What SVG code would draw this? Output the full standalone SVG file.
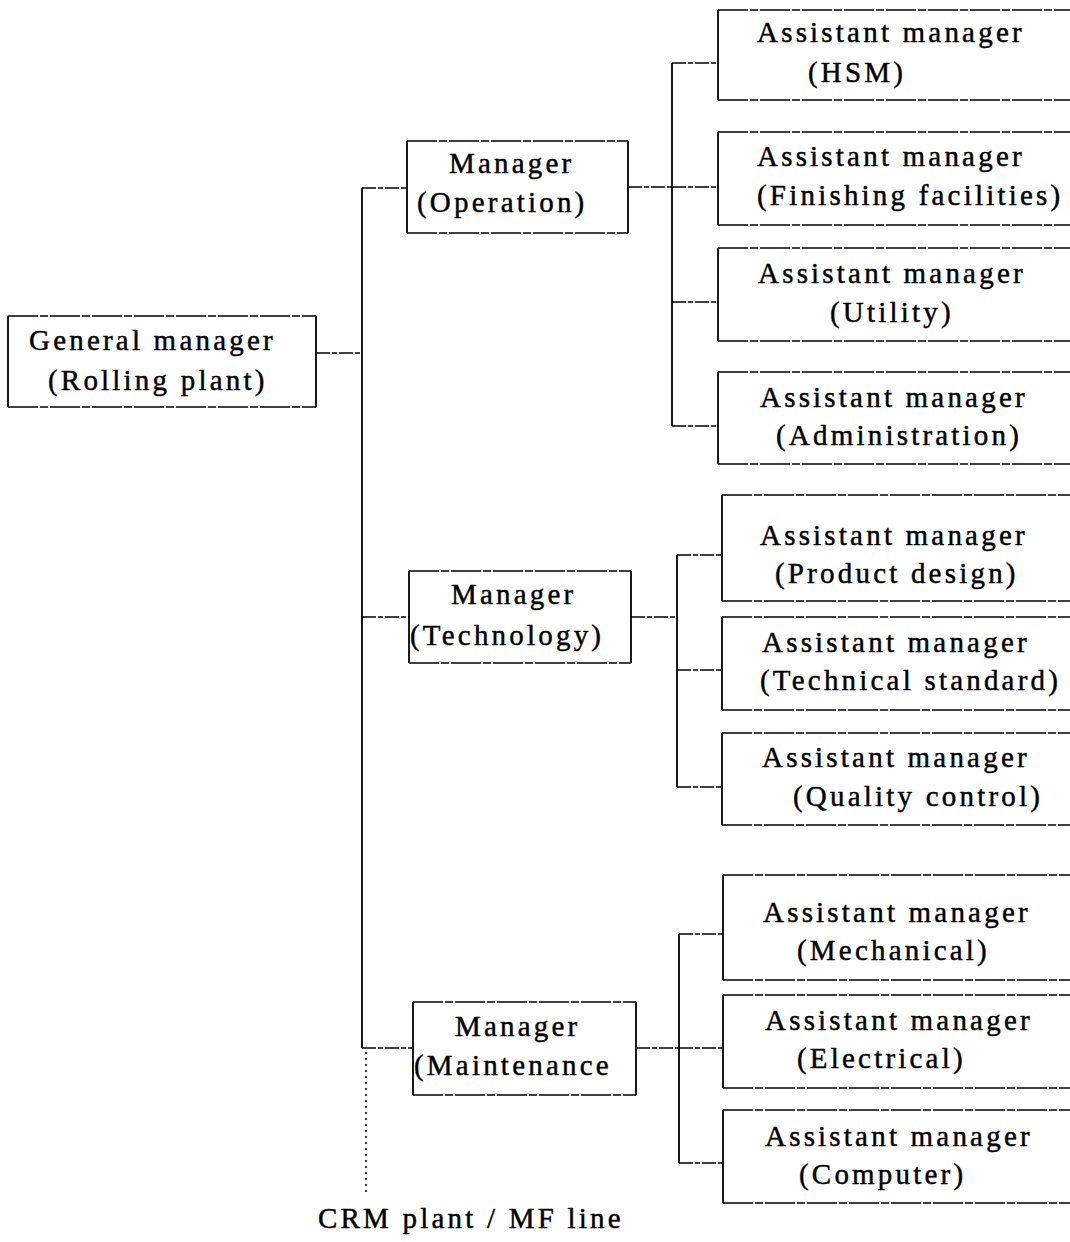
<svg xmlns="http://www.w3.org/2000/svg" width="1070" height="1242" viewBox="0 0 1070 1242">
<style>
.bg{fill:#fff}
.side{stroke:#000;stroke-width:1.8;fill:none}
.edge{stroke:#000;stroke-width:1.3;fill:none;stroke-dasharray:30 2 8 2}
.v{stroke:#000;stroke-width:1.8;fill:none}
.h{stroke:#000;stroke-width:1.3;fill:none;stroke-dasharray:14 2 5 2}
.dot{stroke:#000;stroke-width:1.5;fill:none;stroke-dasharray:2 4}
text{font-family:"Liberation Serif","Times New Roman",serif;font-size:29px;letter-spacing:3.2px;fill:#000;stroke:#000;stroke-width:0.45}
</style>
<rect class="bg" width="1070" height="1242"/>
<g id="connectors">
<line class="h" x1="316" y1="353" x2="362" y2="353"/>
<line class="v" x1="362" y1="188" x2="362" y2="1048"/>
<line class="h" x1="362" y1="188" x2="407" y2="188"/>
<line class="h" x1="362" y1="617" x2="409" y2="617"/>
<line class="h" x1="362" y1="1048" x2="413" y2="1048"/>
<line class="dot" x1="366" y1="1052" x2="366" y2="1196"/>
<line class="h" x1="628" y1="187" x2="672" y2="187"/>
<line class="v" x1="672" y1="63" x2="672" y2="426"/>
<line class="h" x1="672" y1="63" x2="718" y2="63"/>
<line class="h" x1="672" y1="187" x2="718" y2="187"/>
<line class="h" x1="672" y1="302" x2="718" y2="302"/>
<line class="h" x1="672" y1="426" x2="718" y2="426"/>
<line class="h" x1="631" y1="617" x2="677" y2="617"/>
<line class="v" x1="677" y1="555" x2="677" y2="787"/>
<line class="h" x1="677" y1="555" x2="722" y2="555"/>
<line class="h" x1="677" y1="670" x2="722" y2="670"/>
<line class="h" x1="677" y1="787" x2="722" y2="787"/>
<line class="h" x1="636" y1="1048" x2="679" y2="1048"/>
<line class="v" x1="679" y1="934" x2="679" y2="1163"/>
<line class="h" x1="679" y1="934" x2="723" y2="934"/>
<line class="h" x1="679" y1="1048" x2="723" y2="1048"/>
<line class="h" x1="679" y1="1163" x2="723" y2="1163"/>
</g>
<g id="general-manager">
<line class="edge" x1="8" y1="316" x2="316" y2="316"/><line class="edge" x1="8" y1="407" x2="316" y2="407"/>
<line class="side" x1="8" y1="316" x2="8" y2="407"/><line class="side" x1="316" y1="316" x2="316" y2="407"/>
<text x="29" y="350">General manager</text><text x="48" y="390">(Rolling plant)</text>
</g>
<g id="manager-operation">
<line class="edge" x1="407" y1="141" x2="628" y2="141"/><line class="edge" x1="407" y1="233" x2="628" y2="233"/>
<line class="side" x1="407" y1="141" x2="407" y2="233"/><line class="side" x1="628" y1="141" x2="628" y2="233"/>
<text x="449" y="173">Manager</text><text x="417" y="212">(Operation)</text>
</g>
<g id="manager-technology">
<line class="edge" x1="409" y1="571" x2="631" y2="571"/><line class="edge" x1="409" y1="663" x2="631" y2="663"/>
<line class="side" x1="409" y1="571" x2="409" y2="663"/><line class="side" x1="631" y1="571" x2="631" y2="663"/>
<text x="451" y="604">Manager</text><text x="410" y="645">(Technology)</text>
</g>
<g id="manager-maintenance">
<line class="edge" x1="413" y1="1002" x2="636" y2="1002"/><line class="edge" x1="413" y1="1095" x2="636" y2="1095"/>
<line class="side" x1="413" y1="1002" x2="413" y2="1095"/><line class="side" x1="636" y1="1002" x2="636" y2="1095"/>
<text x="455" y="1036">Manager</text><text x="414" y="1075">(Maintenance</text>
</g>
<g id="am-hsm">
<line class="edge" x1="718" y1="10" x2="1070" y2="10"/><line class="edge" x1="718" y1="100" x2="1070" y2="100"/>
<line class="side" x1="718" y1="10" x2="718" y2="100"/>
<text x="757" y="42">Assistant manager</text><text x="808" y="82">(HSM)</text>
</g>
<g id="am-finishing">
<line class="edge" x1="718" y1="132" x2="1070" y2="132"/><line class="edge" x1="718" y1="225" x2="1070" y2="225"/>
<line class="side" x1="718" y1="132" x2="718" y2="225"/>
<text x="757" y="166">Assistant manager</text><text x="757" y="205">(Finishing facilities)</text>
</g>
<g id="am-utility">
<line class="edge" x1="718" y1="248" x2="1070" y2="248"/><line class="edge" x1="718" y1="341" x2="1070" y2="341"/>
<line class="side" x1="718" y1="248" x2="718" y2="341"/>
<text x="758" y="283">Assistant manager</text><text x="830" y="322">(Utility)</text>
</g>
<g id="am-administration">
<line class="edge" x1="718" y1="372" x2="1070" y2="372"/><line class="edge" x1="718" y1="464" x2="1070" y2="464"/>
<line class="side" x1="718" y1="372" x2="718" y2="464"/>
<text x="760" y="407">Assistant manager</text><text x="776" y="445">(Administration)</text>
</g>
<g id="am-product-design">
<line class="edge" x1="722" y1="495" x2="1070" y2="495"/><line class="edge" x1="722" y1="601" x2="1070" y2="601"/>
<line class="side" x1="722" y1="495" x2="722" y2="601"/>
<text x="760" y="545">Assistant manager</text><text x="775" y="583">(Product design)</text>
</g>
<g id="am-technical-standard">
<line class="edge" x1="722" y1="617" x2="1070" y2="617"/><line class="edge" x1="722" y1="710" x2="1070" y2="710"/>
<line class="side" x1="722" y1="617" x2="722" y2="710"/>
<text x="762" y="652">Assistant manager</text><text x="760" y="690">(Technical standard)</text>
</g>
<g id="am-quality-control">
<line class="edge" x1="722" y1="733" x2="1070" y2="733"/><line class="edge" x1="722" y1="825" x2="1070" y2="825"/>
<line class="side" x1="722" y1="733" x2="722" y2="825"/>
<text x="762" y="767">Assistant manager</text><text x="793" y="806">(Quality control)</text>
</g>
<g id="am-mechanical">
<line class="edge" x1="723" y1="875" x2="1070" y2="875"/><line class="edge" x1="723" y1="980" x2="1070" y2="980"/>
<line class="side" x1="723" y1="875" x2="723" y2="980"/>
<text x="763" y="922">Assistant manager</text><text x="797" y="960">(Mechanical)</text>
</g>
<g id="am-electrical">
<line class="edge" x1="723" y1="995" x2="1070" y2="995"/><line class="edge" x1="723" y1="1088" x2="1070" y2="1088"/>
<line class="side" x1="723" y1="995" x2="723" y2="1088"/>
<text x="765" y="1030">Assistant manager</text><text x="797" y="1068">(Electrical)</text>
</g>
<g id="am-computer">
<line class="edge" x1="723" y1="1110" x2="1070" y2="1110"/><line class="edge" x1="723" y1="1203" x2="1070" y2="1203"/>
<line class="side" x1="723" y1="1110" x2="723" y2="1203"/>
<text x="765" y="1146">Assistant manager</text><text x="799" y="1184">(Computer)</text>
</g>
<g id="crm-label">
<text x="318" y="1228">CRM plant / MF line</text>
</g>
</svg>
